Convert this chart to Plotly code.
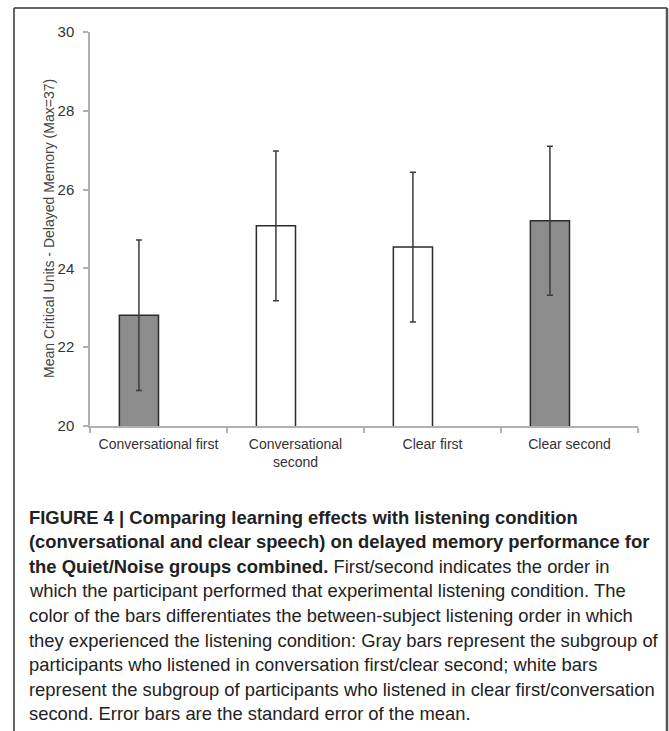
import plotly.graph_objects as go

# ---- data ----
categories = ["Conversational first", "Conversational<br>second", "Clear first", "Clear second"]
means = [22.81, 25.08, 24.54, 25.21]
sem = [1.91, 1.90, 1.90, 1.89]
bar_colors = ["#8c8c8c", "#ffffff", "#ffffff", "#8c8c8c"]
y_ticks = [20, 22, 24, 26, 28, 30]
y_title = "Mean Critical Units - Delayed Memory (Max=37)"
caption_lines = [
    "<b>FIGURE 4 | Comparing learning effects with listening condition</b>",
    "<b>(conversational and clear speech) on delayed memory performance for</b>",
    "<b>the Quiet/Noise groups combined.</b> First/second indicates the order in",
    "which the participant performed that experimental listening condition. The",
    "color of the bars differentiates the between-subject listening order in which",
    "they experienced the listening condition: Gray bars represent the subgroup of",
    "participants who listened in conversation first/clear second; white bars",
    "represent the subgroup of participants who listened in clear first/conversation",
    "second. Error bars are the standard error of the mean.",
]

W, H = 669, 731
L, R, T, B = 90, 669 - 638, 32, 731 - 426
pw, ph = W - L - R, H - T - B

def px(x):
    return (x - L) / pw

def py(y):
    return (H - B - y) / ph

bw = 1 / 3.5  # Excel-like: 2 series, gap width 150%

fig = go.Figure()
fig.add_trace(go.Bar(
    x=categories, y=means,
    width=bw, offset=-bw,
    marker=dict(color=bar_colors, line=dict(color="#2b2b2b", width=1.5)),
    error_y=dict(type="data", array=sem, visible=True, color="#3c3c3c",
                 thickness=1.5, width=3),
    showlegend=False,
))

font_main = "Liberation Sans, Arial, sans-serif"

fig.update_layout(
    width=W, height=H,
    margin=dict(l=L, r=R, t=T, b=B, pad=0),
    paper_bgcolor="white", plot_bgcolor="white",
    font=dict(family=font_main, size=14, color="#333333"),
    xaxis=dict(
        type="category", range=[-0.5, 3.5],
        showline=True, linecolor="#b0b0b0", linewidth=1.5,
        ticks="outside", tickson="boundaries", ticklen=5, tickcolor="#b0b0b0",
        tickwidth=1.5, showgrid=False, zeroline=False,
        tickfont=dict(size=14, color="#333333"),
        ticklabelstandoff=4,
    ),
    yaxis=dict(
        range=[20, 30], tickvals=y_ticks,
        showline=True, linecolor="#b0b0b0", linewidth=1.5,
        ticks="outside", ticklen=5, tickcolor="#b0b0b0", tickwidth=1.5,
        showgrid=False, zeroline=False,
        tickfont=dict(size=15, color="#333333"),
        ticklabelstandoff=6,
    ),
)

# y-axis title as rotated text
fig.add_annotation(
    text=y_title, xref="paper", yref="paper",
    x=px(49), y=py(229), xanchor="center", yanchor="middle",
    textangle=-90, showarrow=False,
    font=dict(size=14, color="#444444", family=font_main),
)

# outer frame (top, left, right edges)
fig.add_shape(type="line", xref="paper", yref="paper",
              x0=px(14), x1=px(667), y0=py(8), y1=py(8),
              line=dict(color="#333333", width=1.5))
fig.add_shape(type="line", xref="paper", yref="paper",
              x0=px(14), x1=px(14), y0=py(8), y1=py(740),
              line=dict(color="#333333", width=1.5))
fig.add_shape(type="line", xref="paper", yref="paper",
              x0=px(667), x1=px(667), y0=py(8), y1=py(740),
              line=dict(color="#555555", width=2.5))

# caption
y0 = 517
dy = 24.6
for i, line in enumerate(caption_lines):
    fig.add_annotation(
        text=line, xref="paper", yref="paper",
        x=px(27), y=py(y0 + i * dy), xanchor="left", yanchor="middle",
        showarrow=False, align="left",
        font=dict(size=18.4, color="#222222", family=font_main),
    )

fig.write_html("out.html",
               config={"displayModeBar": False},
               post_script="document.body.style.margin='0';document.body.style.overflow='hidden';")
